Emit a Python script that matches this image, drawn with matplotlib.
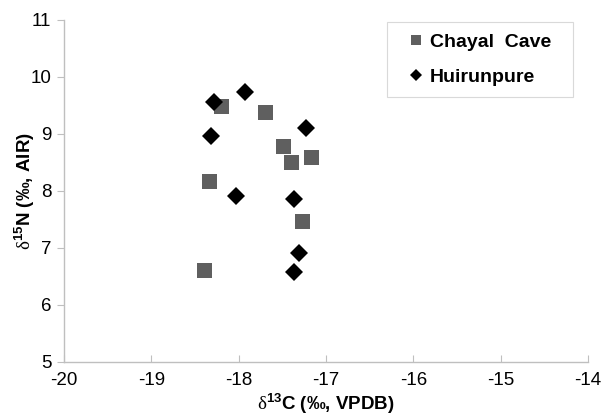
import matplotlib
matplotlib.use('Agg')
import matplotlib.pyplot as plt

# data
chayal_c = [-18.20, -17.70, -17.49, -17.40, -17.17, -18.34, -17.28, -18.40]
chayal_n = [9.49, 9.39, 8.79, 8.50, 8.60, 8.18, 7.47, 6.61]
huirun_c = [-18.28, -17.93, -17.23, -18.32, -18.03, -17.37, -17.31, -17.37]
huirun_n = [9.56, 9.74, 9.11, 8.96, 7.91, 7.86, 6.91, 6.58]

xticks = [-20, -19, -18, -17, -16, -15, -14]
yticks = [5, 6, 7, 8, 9, 10, 11]

plt.rcParams['font.family'] = ['Liberation Sans', 'DejaVu Sans']
plt.rcParams['mathtext.fontset'] = 'custom'
plt.rcParams['mathtext.rm'] = 'Liberation Serif'
plt.rcParams['mathtext.bf'] = 'Liberation Sans:bold'

fig = plt.figure(figsize=(6.02, 4.15), dpi=100)
ax = fig.add_axes([0.106, 0.128, 0.871, 0.824])

ax.plot(chayal_c, chayal_n, linestyle='none', marker='s', markersize=10.8,
        color='#5f5f5f', markeredgewidth=0, label='Chayal  Cave  ')
ax.plot(huirun_c, huirun_n, linestyle='none', marker='D', markersize=9.5,
        color='black', markeredgewidth=0, label='Huirunpure')

ax.set_xlim(-20, -14)
ax.set_ylim(5, 11)
ax.set_xticks(xticks)
ax.set_yticks(yticks)
ax.set_xticklabels([str(v) for v in xticks])
ax.set_yticklabels([str(v) for v in yticks])

for s in ['top', 'right']:
    ax.spines[s].set_visible(False)
for s in ['left', 'bottom']:
    ax.spines[s].set_color('#bfbfbf')
    ax.spines[s].set_linewidth(1.0)

ax.tick_params(axis='x', direction='in', length=5, color='#bfbfbf',
               labelsize=13.5, pad=7)
ax.tick_params(axis='y', direction='out', length=5, color='#bfbfbf',
               labelsize=13.5, pad=4)

ax.set_xlabel(r'$\mathrm{\delta}^{\mathbf{13}}$C (‰, VPDB)', fontsize=13.5,
              fontweight='bold', labelpad=2)
ax.set_ylabel(r'$\mathrm{\delta}^{\mathbf{15}}$N (‰, AIR)', fontsize=13.5,
              fontweight='bold', labelpad=-4.5)

leg = ax.legend(loc='upper left', bbox_to_anchor=(387 / 602, 1 - 22 / 415),
                bbox_transform=fig.transFigure, frameon=True,
                fancybox=False, edgecolor='#d0d0d0', markerscale=0.65,
                prop={'weight': 'bold', 'size': 14}, handlelength=1.75,
                handletextpad=-0.15, labelspacing=0.87, borderpad=0.6,
                borderaxespad=0)
leg.get_frame().set_linewidth(0.8)

fig.savefig('out.png', dpi=100)
